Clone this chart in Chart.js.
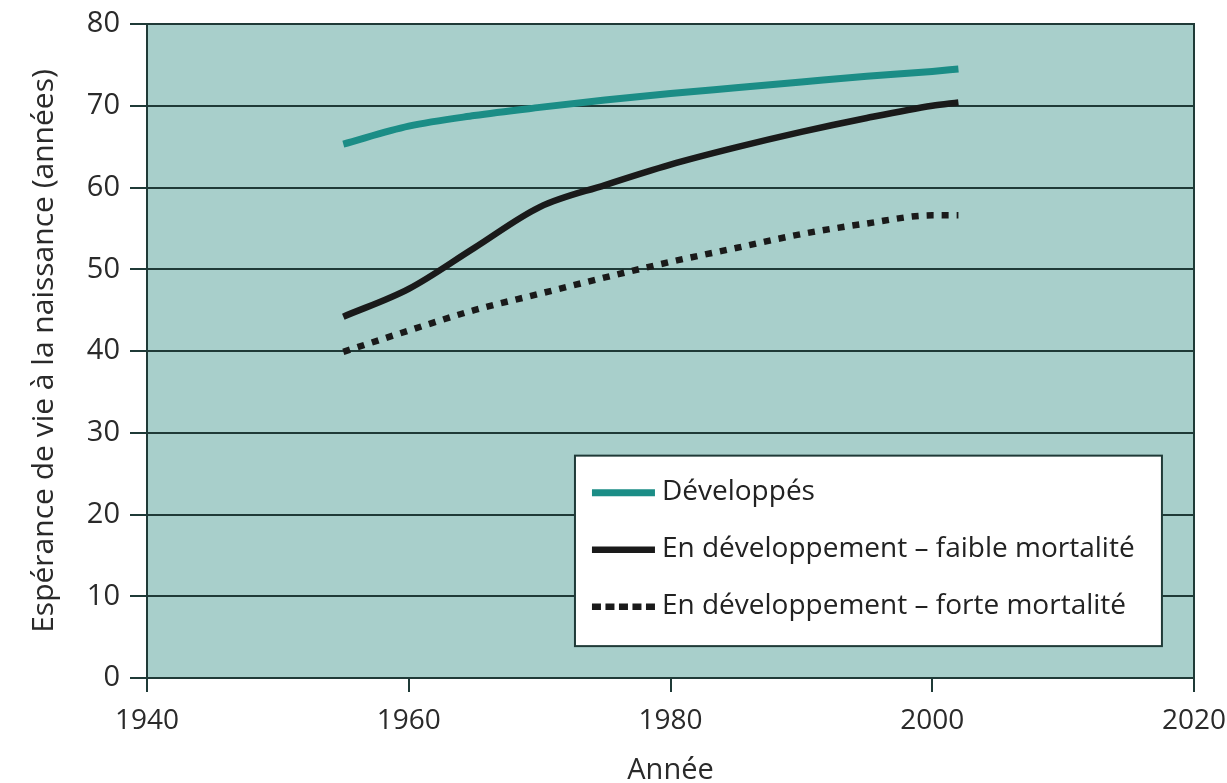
<!DOCTYPE html>
<html>
<head>
<meta charset="utf-8">
<script src="https://cdn.jsdelivr.net/npm/chart.js@4/dist/chart.umd.min.js"></script>
<style>
  html, body { margin: 0; padding: 0; background: #ffffff; }
  #wrap { width: 1227px; height: 783px; position: relative; }
</style>
</head>
<body>
<div id="wrap"><canvas id="c" width="1227" height="783"></canvas></div>
<script>
const years = [1955, 1960, 1965, 1970, 1975, 1980, 1985, 1990, 1995, 2000, 2002];
const developed = [65.3, 67.5, 68.8, 69.8, 70.7, 71.5, 72.2, 72.9, 73.6, 74.2, 74.5];
const lowMortality = [44.2, 47.6, 52.6, 57.6, 60.3, 62.8, 64.9, 66.8, 68.5, 70.0, 70.4];
const highMortality = [39.9, 42.5, 45.0, 47.0, 49.0, 50.9, 52.6, 54.3, 55.6, 56.6, 56.6];
const seriesLabels = ["Développés", "En développement – faible mortalité", "En développement – forte mortalité"];
const xTicks = [1940, 1960, 1980, 2000, 2020];
const yTicks = [0, 10, 20, 30, 40, 50, 60, 70, 80];
const xTitle = "Année";
const yTitle = "Espérance de vie à la naissance (années)";

const FONT = "'Open Sans', 'DejaVu Sans', sans-serif";
const DARK = "#1f3a37";
const PLOT_BG = "#a8cfcb";
const TEAL = "#1b8d86";
const BLACK = "#1a1a1a";

const toPts = arr => years.map((y, i) => ({ x: y, y: arr[i] }));

const plotFrame = {
  id: 'plotFrame',
  beforeDraw(chart) {
    const { ctx, chartArea: a } = chart;
    ctx.save();
    ctx.fillStyle = PLOT_BG;
    ctx.fillRect(a.left, a.top, a.right - a.left, a.bottom - a.top);
    ctx.restore();
  },
  afterDatasetsDraw(chart) {
    const { ctx, chartArea: a } = chart;
    ctx.save();
    ctx.strokeStyle = DARK;
    ctx.lineWidth = 2;
    ctx.strokeRect(a.left, a.top, a.right - a.left, a.bottom - a.top);
    ctx.restore();
  }
};

const boxLegend = {
  id: 'boxLegend',
  afterDraw(chart) {
    const { ctx } = chart;
    const xs = chart.scales.x, ys = chart.scales.y;
    const left = xs.getPixelForValue(1972.7);
    const right = xs.getPixelForValue(2017.55);
    const top = ys.getPixelForValue(27.2);
    const bottom = ys.getPixelForValue(3.9);
    ctx.save();
    ctx.fillStyle = "#ffffff";
    ctx.fillRect(left, top, right - left, bottom - top);
    ctx.strokeStyle = DARK;
    ctx.lineWidth = 2;
    ctx.strokeRect(left, top, right - left, bottom - top);
    const rowH = 57;
    const firstRow = top + 37;
    chart.data.datasets.forEach((ds, i) => {
      const y = firstRow + i * rowH;
      ctx.beginPath();
      ctx.strokeStyle = ds.borderColor;
      ctx.lineWidth = ds.borderWidth;
      ctx.lineCap = 'butt';
      ctx.setLineDash(ds.borderDash ? [9, 4.5] : []);
      ctx.moveTo(left + 17, y);
      ctx.lineTo(left + 80, y);
      ctx.stroke();
      ctx.setLineDash([]);
      ctx.fillStyle = "#222";
      ctx.font = "28px " + FONT;
      ctx.textBaseline = 'middle';
      ctx.textAlign = 'left';
      ctx.fillText(ds.label, left + 87, y - 1);
    });
    ctx.restore();
  }
};

new Chart(document.getElementById('c'), {
  type: 'line',
  data: {
    datasets: [
      { label: seriesLabels[0], data: toPts(developed), borderColor: TEAL, borderWidth: 7, pointRadius: 0, tension: 0.25, cubicInterpolationMode: 'monotone', fill: false },
      { label: seriesLabels[1], data: toPts(lowMortality), borderColor: BLACK, borderWidth: 6.5, pointRadius: 0, tension: 0.25, cubicInterpolationMode: 'monotone', fill: false },
      { label: seriesLabels[2], data: toPts(highMortality), borderColor: BLACK, borderWidth: 6.5, borderDash: [7, 8], borderCapStyle: 'butt', pointRadius: 0, tension: 0.25, cubicInterpolationMode: 'monotone', fill: false }
    ]
  },
  options: {
    responsive: false,
    animation: false,
    devicePixelRatio: 1,
    layout: { padding: { top: 24, right: 33, bottom: 0, left: 0 } },
    plugins: { legend: { display: false }, tooltip: { enabled: false } },
    scales: {
      x: {
        type: 'linear',
        min: 1940, max: 2020,
        afterBuildTicks: s => { s.ticks = xTicks.map(v => ({ value: v })); },
        afterFit: s => { s.height = 105; s.paddingLeft = 0; s.paddingRight = 0; },
        ticks: { color: "#2a2a2a", font: { family: FONT, size: 28 }, padding: 12, maxRotation: 0, callback: v => String(v) },
        grid: { drawOnChartArea: false, drawTicks: true, tickLength: 14, color: DARK, lineWidth: 2 },
        border: { display: false },
        title: { display: true, text: xTitle, color: "#2a2a2a", font: { family: FONT, size: 29 }, padding: { top: 0, bottom: -5 } }
      },
      y: {
        type: 'linear',
        min: 0, max: 80,
        afterBuildTicks: s => { s.ticks = yTicks.map(v => ({ value: v })); },
        afterFit: s => { s.width = 147; s.paddingTop = 0; s.paddingBottom = 0; },
        ticks: { color: "#2a2a2a", font: { family: FONT, size: 29 }, padding: 10 },
        grid: { color: DARK, lineWidth: 2, tickLength: 17 },
        border: { display: false },
        title: { display: true, text: yTitle, color: "#2a2a2a", font: { family: FONT, size: 30 }, padding: { top: 26, bottom: 0 } }
      }
    }
  },
  plugins: [plotFrame, boxLegend]
});
</script>
</body>
</html>
